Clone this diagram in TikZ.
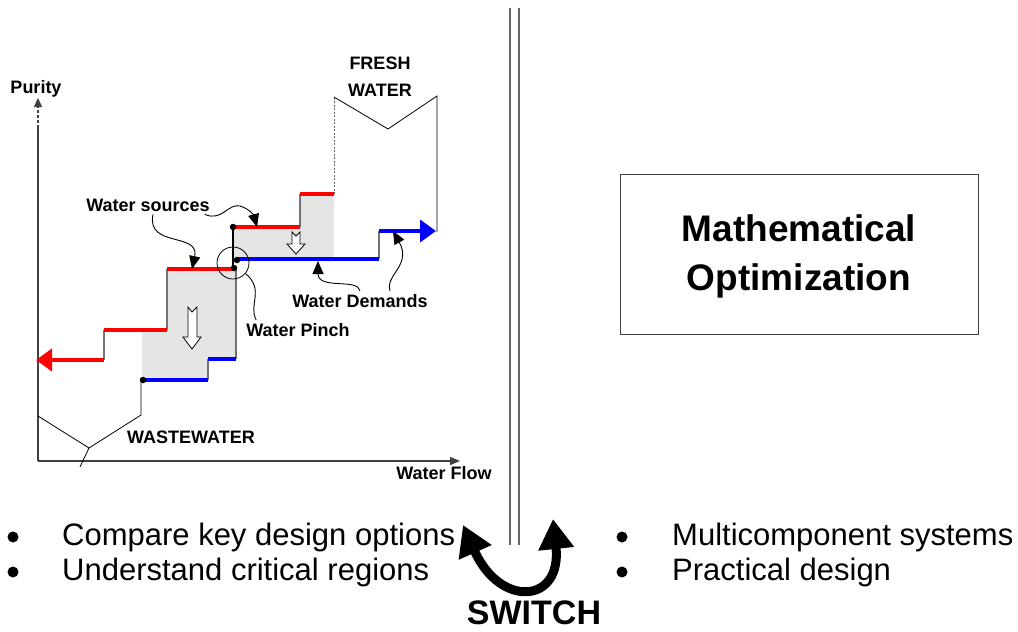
\documentclass[tikz,border=0pt]{standalone}
\usepackage{fontspec}
\setmainfont{Liberation Sans}
\usetikzlibrary{arrows.meta}

\tikzset{
  src/.style={red, line width=4pt},
  dmd/.style={blue, line width=4pt},
  riser/.style={black!55, line width=1.4pt},
  axis/.style={black!75, line width=1.2pt},
  divider/.style={black!60, line width=1.6pt},
  pointer/.style={line width=0.9pt, -{Triangle[length=13pt,width=11pt]}},
  lbl/.style={font=\fontsize{18}{21}\selectfont\bfseries, anchor=base, inner sep=3pt},
  item/.style={font=\fontsize{31}{36}\selectfont, anchor=base west, inner sep=0pt},
  dot/.style={circle, fill=black, inner sep=0pt, minimum size=6.5pt},
  hollow/.style={draw=black, fill=white, line width=0.8pt},
  bigtip/.style={-{Triangle[length=16pt,width=22pt]}},
  shade/.style={fill=black!10},
}

\begin{document}
\begin{tikzpicture}[x=1pt, y=-1pt]
  \useasboundingbox (0,0) rectangle (1018,632);

  % 網掛け領域
  \fill[shade] (142,380) -- (208,380) -- (208,359) -- (236,359) -- (236,269) -- (167,269) -- (167,330) -- (142,330) -- cycle;
  \fill[shade] (233,227) -- (300,227) -- (300,194) -- (334,194) -- (334,259) -- (233,259) -- cycle;

  % 座標軸
  \coordinate (origin) at (38,461);
  \draw[axis, -{Triangle[length=10pt,width=8pt]}] (origin) -- (460,461);
  \draw[axis] (origin) -- (38,128);
  \draw[axis, dash pattern=on 3pt off 2pt, -{Triangle[length=9pt,width=8pt]}] (38,128) -- (38,98);

  % 廃水の山形
  \draw[line width=0.8pt] (38,416) -- (89,448) -- (141,415) -- (141,380);
  \draw[line width=0.8pt] (89,448) -- (80,467);

  % 新鮮水の山形
  \draw[black!60, line width=0.8pt, dash pattern=on 2pt off 1.5pt] (334,194) -- (334,97);
  \draw[line width=0.8pt] (334,97) -- (388,129) -- (437,96) -- (437,232);

  % 段差の縦線
  \draw[riser] (104,360) -- (104,330);
  \draw[riser] (167,330) -- (167,269);
  \draw[riser] (300,227) -- (300,194);
  \draw[riser] (208,380) -- (208,359);
  \draw[riser] (236,359) -- (236,269);
  \draw[riser] (379,259) -- (379,231);
  \draw[black, line width=1.2pt] (233,227) -- (233,269);

  % 水源（赤）
  \draw[src, bigtip] (104,360) -- (36,360);
  \draw[src] (104,330) -- (167,330);
  \draw[src] (167,269) -- (233,269);
  \draw[src] (233,227) -- (300,227);
  \draw[src] (300,194) -- (334,194);

  % 需要（青）
  \draw[dmd] (143,380) -- (208,380);
  \draw[dmd] (208,359) -- (236,359);
  \draw[dmd] (237,259) -- (379,259);
  \draw[dmd, bigtip] (379,231) -- (436,231);

  % 点
  \node[dot] (d1) at (143,380) {};
  \node[dot] (d2) at (233,227) {};
  \node[dot] (d3) at (237,260) {};
  \node[dot] (d4) at (234,268) {};

  % 白抜きの矢印
  \draw[hollow] (188,307) -- (192,312) -- (197,307) -- (197,337) -- (201,337) -- (192,349) -- (183,337) -- (188,337) -- cycle;
  \draw[hollow] (292,232) -- (296,236) -- (300,232) -- (300,244) -- (305,244) -- (296,254) -- (287,244) -- (292,244) -- cycle;

  % ピンチ点
  \node[circle, draw, line width=0.8pt, minimum size=32pt, inner sep=0pt] (pinch) at (233,263) {};

  % ラベル
  \node[lbl] (purity) at (36,93) {Purity};
  \node[lbl] (flow) at (444,479) {Water Flow};
  \node[lbl] (fresh) at (380,69) {FRESH};
  \node[lbl] (freshw) at (380,96) {WATER};
  \node[lbl] (waste) at (191,443) {WASTEWATER};
  \node[lbl] (sources) at (148,211) {Water sources};
  \node[lbl] (demands) at (360,307) {Water Demands};
  \node[lbl] (pinchlbl) at (298,336) {Water Pinch};

  % 注記の矢印
  \coordinate (srcA) at (192,269);
  \coordinate (srcB) at (257,227);
  \coordinate (dmdA) at (318,261);
  \coordinate (dmdB) at (393,231);
  \draw[pointer] ([xshift=5pt]sources.south) .. controls (146,248) and (200,232) .. (srcA);
  \draw[pointer] ([xshift=-8pt]sources.south east) .. controls (222,222) and (228,203) .. (240,206) .. controls (250,209) and (254,216) .. (srcB);
  \draw[pointer] (demands.north) .. controls (358,278) and (318,290) .. (dmdA);
  \draw[pointer] ([xshift=30pt]demands.north) .. controls (385,275) and (412,265) .. (dmdB);
  \draw[line width=0.9pt] ([xshift=13pt]pinchlbl.north west) .. controls (248,305) and (265,290) .. (pinch.-40);

  % 区切りの二重線
  \draw[divider] (510,8) -- (510,545);
  \draw[divider] (519,8) -- (519,545);

  % 数理最適化の箱
  \node[draw=black!75, line width=1pt, minimum width=358pt, minimum height=160pt] (mathbox) at (799,254.5) {};
  \node[font=\fontsize{37}{49}\selectfont\bfseries, align=center] (mathtext) at (799,256) {Mathematical\\Optimization};

  % 箇条書き
  \node[dot, minimum size=11pt] (b1) at (13,537) {};
  \node[dot, minimum size=11pt] (b2) at (13,572) {};
  \node[dot, minimum size=11pt] (b3) at (622,537) {};
  \node[dot, minimum size=11pt] (b4) at (622,572) {};
  \node[item] (t1) at (62,545) {Compare key design options};
  \node[item] (t2) at (62,580) {Understand critical regions};
  \node[item] (t3) at (672,545) {Multicomponent systems};
  \node[item] (t4) at (672,580) {Practical design};

  % 切り替えの矢印
  \draw[line width=9pt, {Triangle[length=30pt,width=34pt]}-{Triangle[length=30pt,width=34pt]}] (463,525) .. controls (500,608) and (562,604) .. (553,519);
  \node[font=\fontsize{34}{40}\selectfont\bfseries, anchor=base] (switch) at (534,624) {SWITCH};
\end{tikzpicture}
\end{document}
